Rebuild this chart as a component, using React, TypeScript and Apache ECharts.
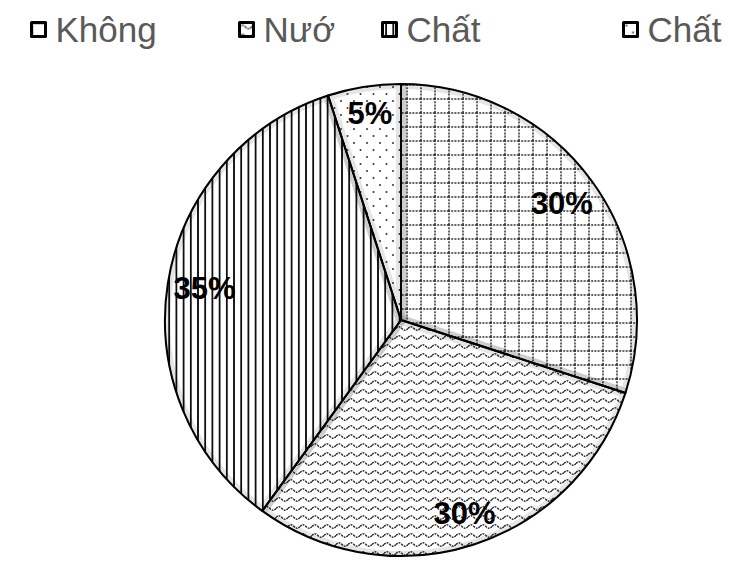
import { useEffect, useRef } from 'react'
import * as echarts from 'echarts'

const categories = ['Không', 'Nướ', 'Chất', 'Chất']
const shares = [30, 30, 35, 5]
const legendLeft = [30, 238, 381, 622]

const svgUrl = (w: number, h: number, body: string) =>
  'data:image/svg+xml;utf8,' +
  encodeURIComponent(
    `<svg xmlns="http://www.w3.org/2000/svg" width="${w}" height="${h}"><rect width="${w}" height="${h}" fill="#fff"/>${body}</svg>`,
  )

// fill patterns, one per slice
const patterns = [
  {
    image: svgUrl(
      14,
      14,
      '<path d="M0 1H14M1 0V14" stroke="#333" stroke-width="1.5" stroke-dasharray="2 1.2"/>',
    ),
    repeat: 'repeat',
    imageWidth: 14,
    imageHeight: 14,
  },
  {
    image: svgUrl(
      12,
      9,
      '<path d="M0 4.5 Q3 1 6 4.5 T12 4.5" fill="none" stroke="#222" stroke-width="1.3" stroke-dasharray="2 1"/>',
    ),
    repeat: 'repeat',
    imageWidth: 12,
    imageHeight: 9,
  },
  {
    image: svgUrl(7.2, 10, '<path d="M3.6 0V10" stroke="#000" stroke-width="1.7"/>'),
    repeat: 'repeat',
    imageWidth: 7.2,
    imageHeight: 10,
  },
  {
    image: svgUrl(
      13,
      14,
      '<circle cx="3" cy="3" r="1" fill="#333"/><circle cx="9.5" cy="10" r="1" fill="#333"/>',
    ),
    repeat: 'repeat',
    imageWidth: 13,
    imageHeight: 14,
  },
]

export default function App() {
  const chartRef = useRef<HTMLDivElement>(null)

  useEffect(() => {
    if (!chartRef.current) return
    const chart = echarts.init(chartRef.current, null, { renderer: 'svg' })

    const center = [401, 320]
    const r = 236

    const legends = categories.map((name, i) => ({
      left: legendLeft[i],
      top: 12,
      padding: 0,
      orient: 'horizontal',
      selectedMode: false,
      icon: 'rect',
      itemWidth: 14,
      itemHeight: 14,
      textStyle: {
        color: '#595959',
        fontSize: 35,
        fontFamily: 'Liberation Sans, Arial, sans-serif',
        padding: [0, 0, 0, 5],
      },
      data: [
        {
          name,
          itemStyle: { color: patterns[i], borderColor: '#000', borderWidth: 3 },
        },
      ],
    }))

    const pieData = categories.map((name, i) => ({
      name,
      value: shares[i],
      itemStyle: { color: patterns[i] },
    }))

    chart.setOption({
      animation: false,
      backgroundColor: '#fff',
      legend: legends,
      series: [
        {
          type: 'pie',
          center,
          radius: [0, r],
          startAngle: 90,
          clockwise: true,
          silent: true,
          label: { show: false },
          labelLine: { show: false },
          itemStyle: { borderColor: 'rgba(0,0,0,0.1)', borderWidth: 10 },
          data: pieData,
        },
        {
          type: 'pie',
          center,
          radius: [r + 1, r + 12],
          silent: true,
          legendHoverLink: false,
          label: { show: false },
          labelLine: { show: false },
          itemStyle: { color: '#fff', borderWidth: 0 },
          data: [{ name: '_ring', value: 1 }],
        },
        {
          type: 'pie',
          center,
          radius: [0, r],
          startAngle: 90,
          silent: true,
          label: { show: false },
          labelLine: { show: false },
          itemStyle: { color: 'rgba(0,0,0,0)', borderColor: '#000', borderWidth: 2 },
          data: categories.map((name, i) => ({ name, value: shares[i] })),
        },
        {
          type: 'pie',
          center,
          radius: [r * 0.62, r * 1.04],
          startAngle: 90,
          silent: true,
          labelLine: { show: false },
          itemStyle: { color: 'rgba(0,0,0,0)', borderWidth: 0 },
          label: {
            show: true,
            position: 'inside',
            formatter: '{c}%',
            color: '#000',
            fontSize: 31,
            fontWeight: 'bold',
            fontFamily: 'Liberation Sans, Arial, sans-serif',
          },
          data: categories.map((name, i) => ({
            name,
            value: shares[i],
            label: i === 3 ? { offset: [0, -10] } : i === 1 ? { offset: [2, 4] } : undefined,
          })),
        },
      ],
    })

    return () => {
      chart.dispose()
    }
  }, [])

  return (
    <div
      ref={chartRef}
      style={{ position: 'fixed', left: 0, top: 0, width: 734, height: 562 }}
    />
  )
}
